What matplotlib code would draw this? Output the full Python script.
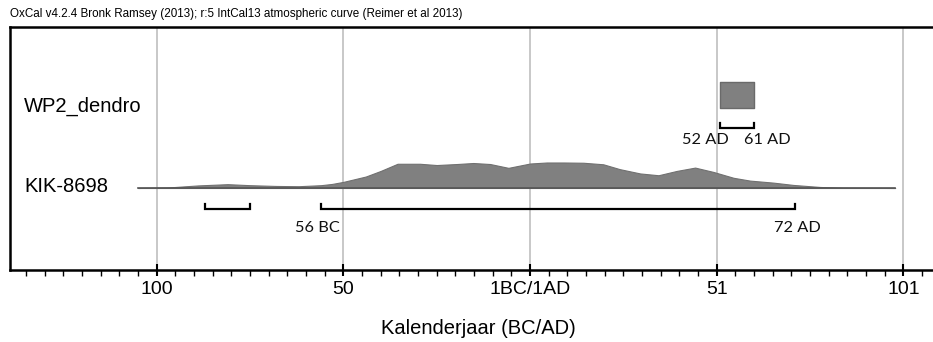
import numpy as np
import matplotlib.pyplot as plt
from matplotlib.ticker import MultipleLocator, FixedLocator, FixedFormatter
import matplotlib.transforms as mtransforms

plt.rcParams['font.family'] = ['Liberation Sans', 'DejaVu Sans']

# years on a continuous axis: 0 = 1BC/1AD boundary, 50 = 51 AD, -50 = 50 BC
kik_years = [-105, -97, -89, -81, -75, -68, -62, -56, -53, -50, -44, -40, -35.5,
             -29.5, -25, -19.6, -15.2, -10.7, -5.8, 0, 4.5, 9, 14.3, 19.6, 24,
             29.5, 34.4, 39.3, 44.2, 49.1, 54.5, 58.9, 65.2, 70.5, 77.7, 84, 97.8]
kik_prob = [0, 2, 10, 15, 11, 8, 7, 11, 16, 24, 45, 67, 95,
            95, 90, 94, 98, 94, 79, 96, 100, 100, 99, 93, 74,
            57, 50, 67, 80, 63, 40, 29, 21, 12, 4, 1, 0]
kik_ranges = [(-87, -75), (-56, 71)]

wp2_years = [51, 60]
wp2_prob = [100, 100]
wp2_range = (51, 60)

tick_pos = [-100, -50, 0, 50, 100]
tick_labels = ['100', '50', '1BC/1AD', '51', '101']

fig = plt.figure(figsize=(9.33, 3.42), dpi=100)
ax = fig.add_axes([10 / 933, 72 / 342, 936 / 933, 243 / 342])
ax.set_xlim(-139.3, 111.4)
ax.set_ylim(0, 243)

row_h = 25.5
kik_base = 82
wp2_base = 162.5

# grid
for t in tick_pos:
    ax.axvline(t, color='#c4c4c4', lw=1.3, zorder=0)

# KIK-8698 distribution
kp = np.array(kik_prob) / max(kik_prob) * row_h
ax.fill_between(kik_years, kik_base, kik_base + kp, facecolor='#808080',
                edgecolor='#707070', lw=0.8, zorder=2)
ax.plot([kik_years[0], kik_years[-1]], [kik_base, kik_base], color='#555555', lw=1.2, zorder=3)

# WP2_dendro distribution
wp = np.array(wp2_prob) / max(wp2_prob) * row_h
ax.fill_between(wp2_years, wp2_base, wp2_base + wp, facecolor='#808080',
                edgecolor='#6a6a6a', lw=1.0, zorder=2)


def bracket(x0, x1, y, h=4.8):
    ax.plot([x0, x0, x1, x1], [y + h, y, y, y + h], color='black', lw=1.6,
            solid_joinstyle='miter', zorder=3)


for r in kik_ranges:
    bracket(r[0], r[1], 61.5)
bracket(wp2_range[0], wp2_range[1], 142.5)

rfont = dict(family=['Lato', 'DejaVu Sans'], fontsize=11.8, va='center', color='#111111')
ax.annotate('56 BC', (kik_ranges[1][0], 42), xytext=(-2.5, 0), textcoords='offset points', ha='center', **rfont)
ax.annotate('72 AD', (kik_ranges[1][1], 42.5), xytext=(1.5, 0), textcoords='offset points', ha='center', **rfont)
ax.annotate('52 AD', (wp2_range[0], 129.5), xytext=(6, 0), textcoords='offset points', ha='right', **rfont)
ax.annotate('61 AD', (wp2_range[1], 129.5), xytext=(-7, 0), textcoords='offset points', ha='left', **rfont)

# row names
trans = mtransforms.blended_transform_factory(ax.transAxes, ax.transData)
ax.text(14 / 936, 163.5, 'WP2_dendro', transform=trans, fontsize=14.5, va='center')
ax.text(14 / 936, 83, 'KIK-8698', transform=trans, fontsize=14.5, va='center')

# axes styling
for s in ['left', 'top', 'bottom']:
    ax.spines[s].set_linewidth(1.8)
    ax.spines[s].set_color('black')
ax.spines['right'].set_visible(False)
ax.set_yticks([])
ax.xaxis.set_major_locator(FixedLocator(tick_pos))
ax.xaxis.set_major_formatter(FixedFormatter(tick_labels))
ax.xaxis.set_minor_locator(MultipleLocator(5))
ax.tick_params(axis='x', which='major', direction='inout', length=8, width=1.5,
               labelsize=14, pad=4)
ax.tick_params(axis='x', which='minor', direction='out', length=4, width=1.0)
ax.set_xlabel('Kalenderjaar (BC/AD)', fontsize=14.5, labelpad=15)

fig.text(10 / 933, 1 - 14 / 342, 'OxCal v4.2.4 Bronk Ramsey (2013); r:5 IntCal13 atmospheric curve (Reimer et al 2013)',
         fontsize=8.4, va='center', ha='left')

fig.savefig('out.png', dpi=100)
